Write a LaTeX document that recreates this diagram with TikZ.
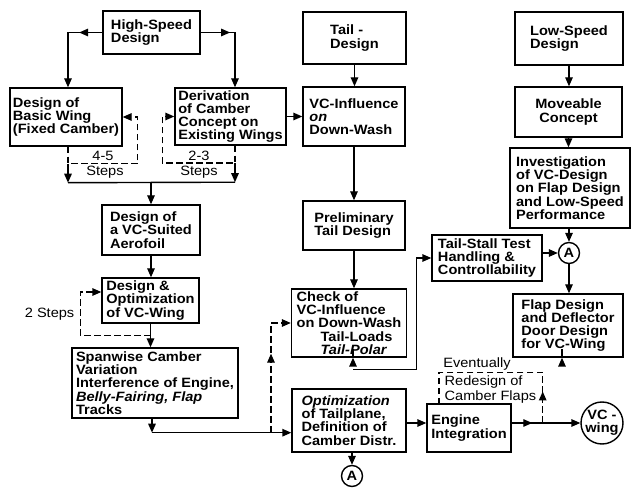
\documentclass[tikz,border=0pt]{standalone}
\usepackage{fontspec}
\setmainfont{Liberation Sans}[FakeStretch=1.08]
\usetikzlibrary{arrows.meta,decorations.markings,calc}
\newcommand\bxfont{\fontsize{13.5}{13.3}\selectfont\bfseries}
\newcommand\lbfont{\fontsize{13.5}{15}\selectfont}
\begin{document}
\begin{tikzpicture}[x=1pt,y=-1pt,line width=1.4pt,
  box/.style={draw,line width=1.4pt,align=left,inner sep=1.5pt,font=\bxfont},
  circ/.style={draw,circle,line width=1.4pt,inner sep=0pt,align=center,font=\bxfont},
  lbl/.style={inner sep=0pt,font=\lbfont},
  arr/.style={-{Triangle[length=9pt,width=7.5pt]}},
  dsh/.style={dash pattern=on 6.5pt off 3.5pt},
  midarrow/.style={postaction={decorate,decoration={markings,mark=at position #1 with {\arrow{Triangle[length=9pt,width=7.5pt]}}}}}]
\useasboundingbox (0,0) rectangle (633,489);

% boxes
\node[box,minimum width=97pt,minimum height=43pt] (hsd) at (151.5,32.5) {High-Speed\\Design};
\node[box,minimum width=103pt,minimum height=52pt] (tail) at (354.5,38) {Tail -\\Design};
\node[box,minimum width=108pt,minimum height=53pt] (low) at (569,38.5) {Low-Speed\\Design};
\node[box,minimum width=112pt,minimum height=58pt] (bw) at (66,117) {Design of\\Basic Wing\\(Fixed Camber)};
\node[box,minimum width=111pt,minimum height=57pt] (der) at (230.5,116.5) {Derivation\\of Camber\\Concept on\\Existing Wings};
\node[box,minimum width=102pt,minimum height=59pt] (vci) at (354,116.5) {VC-Influence\\\textit{on}\\Down-Wash};
\node[box,align=center,minimum width=107pt,minimum height=50pt] (mov) at (568.5,112) {Moveable\\Concept};
\node[box,minimum width=120pt,minimum height=80pt] (inv) at (570,188) {Investigation\\of VC-Design\\on Flap Design\\and Low-Speed\\Performance};
\node[box,minimum width=102pt,minimum height=49pt] (pre) at (354,225.5) {Preliminary\\Tail Design};
\node[box,minimum width=98pt,minimum height=50pt] (aero) at (151,230) {Design of\\a VC-Suited\\Aerofoil};
\node[box,minimum width=97pt,minimum height=45pt] (dno) at (150.5,300.5) {Design \&\\Optimization\\of VC-Wing};
\node[box,minimum width=110pt,minimum height=46pt] (ts) at (487,258) {Tail-Stall Test\\Handling \&\\Controllability};
\node[box,minimum width=115pt,minimum height=68pt] (check) at (349,323) {Check of\\VC-Influence\\on Down-Wash\\\hspace*{24pt}Tail-Loads\\\hspace*{24pt}\textit{Tail-Polar}};
\node[box,minimum width=110pt,minimum height=63pt] (flap) at (568,325.5) {Flap Design\\and Deflector\\Door Design\\for VC-Wing};
\node[box,minimum width=166pt,minimum height=70pt] (span) at (155,383) {Spanwise Camber\\Variation\\Interference of Engine,\\\textit{Belly-Fairing, Flap}\\Tracks};
\node[box,minimum width=114pt,minimum height=63pt] (opt) at (349,420.5) {\textit{Optimization}\\of Tailplane,\\Definition of\\Camber Distr.};
\node[box,minimum width=84pt,minimum height=48pt] (eng) at (469,428) {Engine\\Integration};
\node[circ,minimum size=21pt] (Aup) at (569,253) {A};
\node[circ,minimum size=21pt] (Abot) at (352,476) {A};
\node[circ,minimum size=42pt] (vc) at (602,423) {VC -\\wing};

% labels
\node[lbl,anchor=base] (l45) at (103,161) {4-5};
\node[lbl,anchor=base] (ls1) at (105,176) {Steps};
\node[lbl,anchor=base] (l23) at (199,161) {2-3};
\node[lbl,anchor=base] (ls2) at (199,176) {Steps};
\node[lbl,anchor=base east] (l2s) at (75,318) {2 Steps};
\node[lbl,anchor=base] (lev) at (477,368) {Eventually};
\node[lbl,anchor=base west] (lrd1) at (444,386) {Redesign of};
\node[lbl,anchor=base west] (lrd2) at (444,401) {Camber Flaps};

% high-speed branch
\draw[arr,midarrow=0.26] (hsd.west) -| ($(bw.north)+(2,0)$);
\draw[arr,midarrow=0.33] (hsd.east) -| ($(der.north)+(4.5,0)$);
% loops
\coordinate (bl1) at ($(bw.south)+(2,17)$);
\coordinate (j1) at ($(bw.south)+(2,36)$);
\draw[dsh,arr] ($(bw.south)+(2,0)$) -- (bl1) -| ($(bw.east)+(15,0)$) -- (bw.east);
\draw[arr] (bl1) -- (j1);
\coordinate (dl1) at ($(der.south)+(4.5,17.5)$);
\coordinate (j2) at ($(der.south)+(4.5,36.5)$);
\draw[dsh,arr] ($(der.south)+(4.5,0)$) -- (dl1) -| ($(der.west)+(-12,0)$) -- (der.west);
\draw[arr] (dl1) -- (j2);
\draw (j1) -- (j2);
\draw[arr] (j1 -| aero.north) -- (aero.north);
\draw[arr] (aero.south) -- (aero.south |- dno.north);
\draw[arr] (dno.south) -- (dno.south |- span.north);
\coordinate (sl) at ($(dno.south)+(0,12)$);
\draw[dsh,arr] (sl) -| ($(dno.west)+(-21,-8.5)$) -- ($(dno.west)+(0,-8.5)$);
% spanwise to optimisation
\coordinate (c1) at ($(span.south)+(-3,14)$);
\draw[arr] ($(span.south)+(-3,0)$) -- (c1);
\draw[arr] (c1) -- (c1 -| opt.west);
\coordinate (c2) at ($(c1)+(119,0)$);
\draw[dsh,arr,midarrow=0.61] (c2) |- (check.west);
% tail column
\draw[arr] (der.east) -- (vci.west);
\draw[arr] (tail.south) -- (tail.south |- vci.north);
\draw[arr] (vci.south) -- (vci.south |- pre.north);
\draw[arr] (pre.south) -- (pre.south |- check.north);
\draw[arr] ($(check.south)+(4,0)$) -- ($(check.south)+(4,0)$ |- opt.north);
\coordinate (c3) at ($(check.south)+(4,12)$);
\draw[arr] (c3) -| ($(ts.west)+(-15,0)$) -- (ts.west);
\draw[arr] (opt.south -| Abot) -- (Abot.north);
% engine
\coordinate (ein) at ($(eng.west)+(0,-5)$);
\draw[arr] (opt.east |- ein) -- (ein);
\coordinate (eout) at ($(eng.east)+(0,-5)$);
\draw[arr,midarrow=0.3] (eout) -- (eout -| vc.west);
\coordinate (c4) at ($(eout)+(31,0)$);
\draw[dsh,midarrow=0.17] (c4) |- ($(eng.north)+(-30,-31)$) -- ($(eng.north)+(-30,0)$);
% low-speed column
\draw[arr] (low.south) -- (low.south |- mov.north);
\draw[arr] (mov.south) -- (mov.south |- inv.north);
\draw[arr] (inv.south -| Aup) -- (Aup.north);
\draw[arr] (ts.east |- Aup.west) -- (Aup.west);
\draw[arr] (Aup.south) -- (Aup.south |- flap.north);
\draw[arr] ($(flap.south)+(-6,0)$) -- ($(flap.south)+(-6,0)$ |- vc.west);
\end{tikzpicture}
\end{document}
